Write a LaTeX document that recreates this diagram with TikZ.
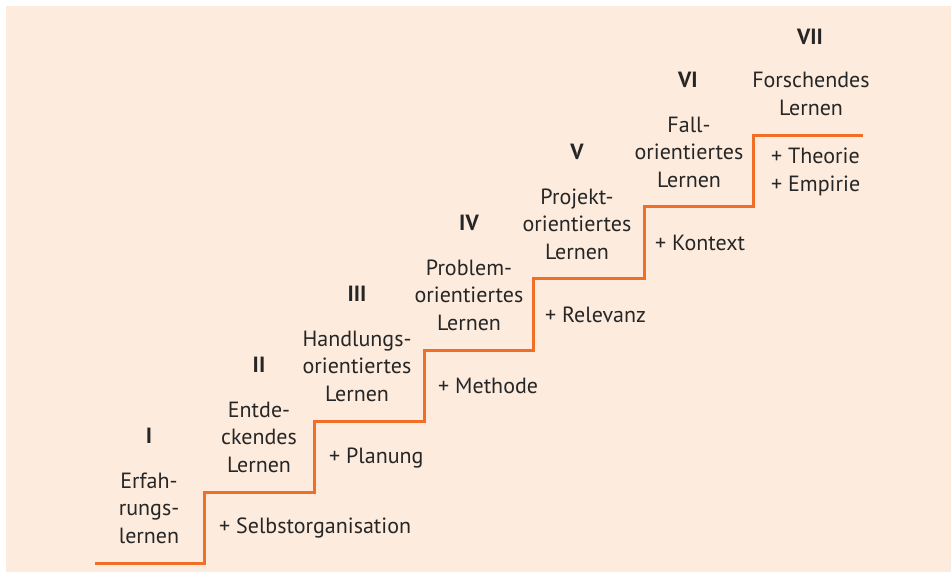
\documentclass[tikz,border=0pt]{standalone}
\usepackage{fontspec}
\setmainfont{PT Sans}
\definecolor{bgpeach}{HTML}{FDEBDD}
\definecolor{stairorange}{HTML}{F26E26}
\definecolor{txtgray}{HTML}{262626}
\begin{document}
\begin{tikzpicture}[x=1pt,y=-1pt,
  lbl/.style={align=center,text=txtgray,font=\fontsize{22}{27.5}\selectfont,inner sep=0pt},
  num/.style={text=txtgray,font=\fontsize{22}{24}\selectfont\bfseries,inner sep=0pt},
  plus/.style={align=left,anchor=west,text=txtgray,font=\fontsize{22}{28}\selectfont,inner sep=0pt}]
\useasboundingbox (0,0) rectangle (951,580);
\fill[white] (0,0) rectangle (951,580);
\fill[bgpeach] (6,6) rectangle (951,572);
\draw[stairorange,line width=3pt]
  (95,563) -- (204,563) -- (204,492) -- (314,492) -- (314,421) -- (424,421)
  -- (424,350) -- (533,350) -- (533,279) -- (644,279) -- (644,207) -- (753,207)
  -- (753,136) -- (863,136);
% numerals
\node[num] (n1) at (149,436) {I};
\node[num] (n2) at (259,365) {II};
\node[num] (n3) at (357,294) {III};
\node[num] (n4) at (469,223) {IV};
\node[num] (n5) at (577,152) {V};
\node[num] (n6) at (688,80) {VI};
\node[num] (n7) at (810,37) {VII};
% labels
\node[lbl] (l1) at (149,508) {Erfah-\\rungs-\\lernen};
\node[lbl] (l2) at (259,437) {Entde-\\ckendes\\Lernen};
\node[lbl] (l3) at (357,366) {Handlungs-\\orientiertes\\Lernen};
\node[lbl] (l4) at (469,295) {Problem-\\orientiertes\\Lernen};
\node[lbl] (l5) at (577,224) {Projekt-\\orientiertes\\Lernen};
\node[lbl] (l6) at (689,152) {Fall-\\orientiertes\\Lernen};
\node[lbl] (l7) at (811,94) {Forschendes\\Lernen};
% additions
\node[plus] (p1) at (219,528) {+ Selbstorganisation};
\node[plus] (p2) at (329,458) {+ Planung};
\node[plus] (p3) at (438,386) {+ Methode};
\node[plus] (p4) at (545,315) {+ Relevanz};
\node[plus] (p5) at (655,243) {+ Kontext};
\node[plus] (p6) at (771,172) {+ Theorie\\+ Empirie};
\end{tikzpicture}
\end{document}
